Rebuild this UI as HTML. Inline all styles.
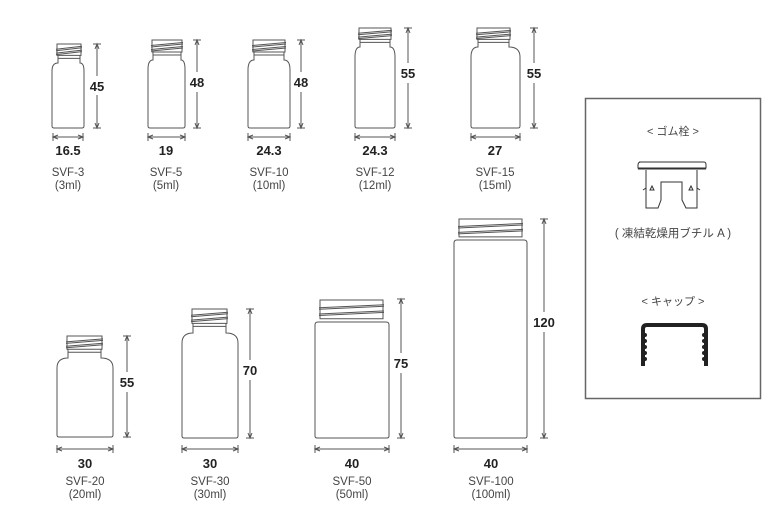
<!DOCTYPE html>
<html><head><meta charset="utf-8"><style>
html,body{margin:0;padding:0;background:#fff;}
svg{display:block;}
text{font-family:"Liberation Sans","Noto Sans CJK JP",sans-serif;fill:#222;}
.d{font-size:13px;font-weight:bold;}
.n{font-size:11.5px;fill:#444;}
</style></head><body>
<svg id="s" width="780" height="510" viewBox="0 0 780 510" xmlns="http://www.w3.org/2000/svg">
<g id="g" fill="none" stroke="#555" stroke-width="1"></g>
<!-- row 1 labels -->
<text class="d" x="68" y="155" text-anchor="middle">16.5</text>
<text class="d" x="166" y="155" text-anchor="middle">19</text>
<text class="d" x="269" y="155" text-anchor="middle">24.3</text>
<text class="d" x="375" y="155" text-anchor="middle">24.3</text>
<text class="d" x="495" y="155" text-anchor="middle">27</text>
<text class="n" x="68" y="176" text-anchor="middle">SVF-3</text>
<text class="n" x="68" y="189" text-anchor="middle">(3ml)</text>
<text class="n" x="166" y="176" text-anchor="middle">SVF-5</text>
<text class="n" x="166" y="189" text-anchor="middle">(5ml)</text>
<text class="n" x="269" y="176" text-anchor="middle">SVF-10</text>
<text class="n" x="269" y="189" text-anchor="middle">(10ml)</text>
<text class="n" x="375" y="176" text-anchor="middle">SVF-12</text>
<text class="n" x="375" y="189" text-anchor="middle">(12ml)</text>
<text class="n" x="495" y="176" text-anchor="middle">SVF-15</text>
<text class="n" x="495" y="189" text-anchor="middle">(15ml)</text>
<!-- vertical dims row1 -->
<text class="d" x="97" y="91" text-anchor="middle">45</text>
<text class="d" x="197" y="87" text-anchor="middle">48</text>
<text class="d" x="301" y="87" text-anchor="middle">48</text>
<text class="d" x="408" y="78" text-anchor="middle">55</text>
<text class="d" x="534" y="78" text-anchor="middle">55</text>
<!-- row2 -->
<text class="d" x="85" y="468" text-anchor="middle">30</text>
<text class="d" x="210" y="468" text-anchor="middle">30</text>
<text class="d" x="352" y="468" text-anchor="middle">40</text>
<text class="d" x="491" y="468" text-anchor="middle">40</text>
<text class="n" x="85" y="485" text-anchor="middle">SVF-20</text>
<text class="n" x="85" y="498" text-anchor="middle">(20ml)</text>
<text class="n" x="210" y="485" text-anchor="middle">SVF-30</text>
<text class="n" x="210" y="498" text-anchor="middle">(30ml)</text>
<text class="n" x="352" y="485" text-anchor="middle">SVF-50</text>
<text class="n" x="352" y="498" text-anchor="middle">(50ml)</text>
<text class="n" x="491" y="485" text-anchor="middle">SVF-100</text>
<text class="n" x="491" y="498" text-anchor="middle">(100ml)</text>
<text class="d" x="127" y="387" text-anchor="middle">55</text>
<text class="d" x="250" y="375" text-anchor="middle">70</text>
<text class="d" x="401" y="368" text-anchor="middle">75</text>
<text class="d" x="544" y="327" text-anchor="middle">120</text>
<!-- side box -->
<rect x="585.5" y="98.5" width="175" height="300" fill="none" stroke="#666" stroke-width="1.5"/>
<text class="n" x="673" y="135" text-anchor="middle" style="font-size:11px">&lt; ゴム栓 &gt;</text>
<text class="n" x="673" y="237" text-anchor="middle" style="font-size:11.5px">( 凍結乾燥用ブチル A )</text>
<text class="n" x="673" y="305" text-anchor="middle" style="font-size:11px">&lt; キャップ &gt;</text>
<g fill="none" stroke="#333" stroke-width="1">
<path d="M639 162 H704 Q706 162 706 165 V168 H638 V165 Q638 162 641 162 Z"/>
<line x1="638" y1="169" x2="706" y2="169"/>
<path d="M646 170 V208 H658 L661 200 V182 H682 V200 L686 208 H697 V170"/>
<path d="M646 188 L643 190 M697 188 L700 190"/>
<path d="M650 190 l2 -4 l2 4 Z M689 190 l2 -4 l2 4 Z"/>
</g>
<path d="M643 366 V329 Q643 325 647 325 H702 Q706 325 706 329 V366" fill="none" stroke="#222" stroke-width="4"/>
<g id="tk" fill="#222"></g>
</svg>
<script>
var g=document.getElementById('g'),NS='http://www.w3.org/2000/svg';
function el(t,a,p){var e=document.createElementNS(NS,t);for(var k in a)e.setAttribute(k,a[k]);(p||g).appendChild(e);return e;}
function P(d,p){el('path',{d:d},p);}
// bottle: cap x1,x2,top; body x1,x2, shoulderTop, bottom, wide (no neck)
function bottle(c1,c2,ct,b1,b2,st,bot,wide){
 var ch=wide?(st-ct)*0.85:(st-ct)*0.6;
 var cb=ct+ch;
 P('M'+(c1+1)+' '+ct+' H'+(c2-1)+' V'+cb+' H'+(c1+1)+' Z');
 var n=3;for(var i=1;i<n;i++){var y=ct+ch*i/n;P('M'+c1+' '+(y+1.5)+' L'+c2+' '+(y-1.5));P('M'+c1+' '+(y+3)+' L'+c2+' '+y);}
 var r=wide?3:Math.min(10,(b2-b1)*0.25);
 var nk1=c1+2,nk2=c2-2;
 if(wide){P('M'+b1+' '+(st+3)+' Q'+b1+' '+st+' '+(b1+3)+' '+st+' H'+(b2-3)+' Q'+b2+' '+st+' '+b2+' '+(st+3)+' V'+(bot-2)+' Q'+b2+' '+bot+' '+(b2-2)+' '+bot+' H'+(b1+2)+' Q'+b1+' '+bot+' '+b1+' '+(bot-2)+' Z');}
 else{P('M'+nk1+' '+cb+' V'+(st)+' Q'+b1+' '+st+' '+b1+' '+(st+r)+' V'+(bot-2)+' Q'+b1+' '+bot+' '+(b1+2)+' '+bot+' H'+(b2-2)+' Q'+b2+' '+bot+' '+b2+' '+(bot-2)+' V'+(st+r)+' Q'+b2+' '+st+' '+nk2+' '+st+' V'+cb);
 P('M'+nk1+' '+(cb+3)+' H'+nk2);}
}
function vdim(x,t,b,gap1,gap2){el('line',{x1:x-4,y1:t,x2:x+4,y2:t});el('line',{x1:x-4,y1:b,x2:x+4,y2:b});
 el('line',{x1:x,y1:t,x2:x,y2:gap1});el('line',{x1:x,y1:gap2,x2:x,y2:b});
 P('M'+(x-2)+' '+(t+5)+' L'+x+' '+t+' L'+(x+2)+' '+(t+5));P('M'+(x-2)+' '+(b-5)+' L'+x+' '+b+' L'+(x+2)+' '+(b-5));}
function hdim(y,l,r){el('line',{x1:l,y1:y-4,x2:l,y2:y+4});el('line',{x1:r,y1:y-4,x2:r,y2:y+4});el('line',{x1:l,y1:y,x2:r,y2:y});
 P('M'+(l+5)+' '+(y-2)+' L'+l+' '+y+' L'+(l+5)+' '+(y+2));P('M'+(r-5)+' '+(y-2)+' L'+r+' '+y+' L'+(r-5)+' '+(y+2));}
// row1
bottle(56,82,44,52,84,63,128);vdim(97,44,128,76,95);hdim(137,53,83);
bottle(151,183,40,148,185,60,128);vdim(197,40,128,72,92);hdim(137,148,185);
bottle(252,286,40,248,290,60,128);vdim(301,40,128,72,92);hdim(137,248,290);
bottle(358,392,28,355,395,47,128);vdim(408,28,128,63,83);hdim(137,355,395);
bottle(476,511,28,471,520,47,128);vdim(534,28,128,63,83);hdim(137,471,520);
// row2
bottle(66,103,336,57,113,358,437);vdim(127,336,437,372,392);hdim(449,57,113);
bottle(191,228,309,182,238,333,438);vdim(250,309,438,360,380);hdim(449,182,238);
bottle(319,384,300,315,389,322,438,true);vdim(401,299,438,353,373);hdim(449,315,389);
bottle(458,523,219,454,527,240,438,true);vdim(544,219,438,312,332);hdim(449,454,527);
// cap bumps
var tk=document.getElementById('tk');
[335,341,347,353,359].forEach(function(y){el('circle',{cx:645,cy:y,r:2},tk);el('circle',{cx:704,cy:y,r:2},tk);});
</script>
</body></html>
